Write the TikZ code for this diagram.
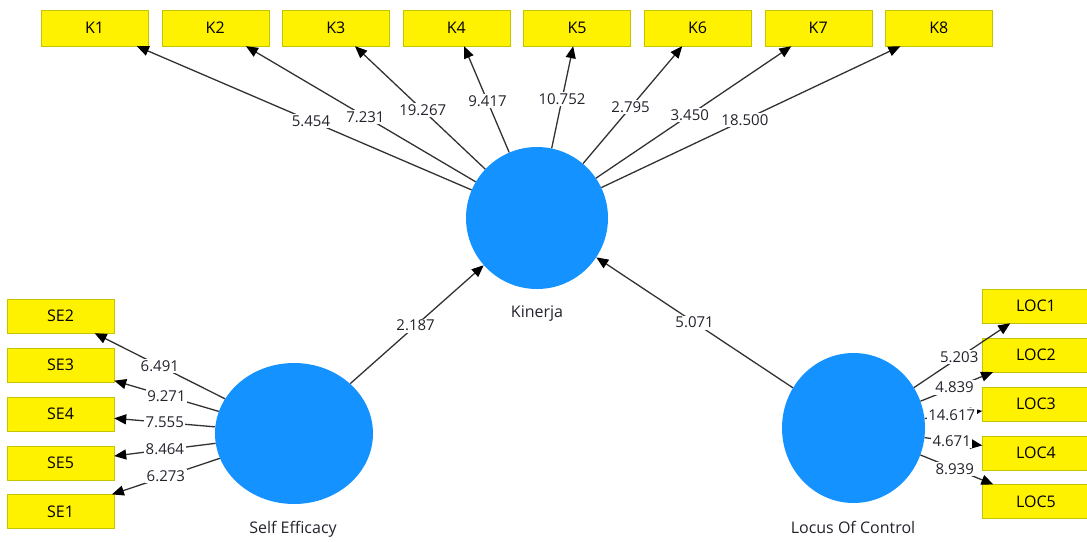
\documentclass[tikz,border=0pt]{standalone}
\usepackage{fontspec}
\setmainfont{Open Sans}
\usetikzlibrary{arrows.meta,shapes.geometric}
\definecolor{boxline}{RGB}{196,196,0}
\definecolor{lvblue}{RGB}{20,146,255}
\definecolor{linegray}{RGB}{50,50,50}
\definecolor{numtext}{RGB}{35,35,45}
\begin{document}
\begin{tikzpicture}[x=1pt,y=-1pt,font=\fontsize{15}{18}\selectfont,
    ind/.style={draw=boxline,fill=yellow,minimum width=107pt,minimum height=35pt,inner sep=0pt,font=\fontsize{16}{19}\selectfont},
    lv/.style={ellipse,fill=lvblue,inner sep=0pt},
    lvname/.style={text=numtext,font=\fontsize{16}{19}\selectfont},
    wt/.style={fill=white,inner sep=1.5pt,text=numtext},
    load/.style={draw=linegray,line width=1.3pt,-{Triangle[length=12pt,width=10pt,color=black]}}]
    \useasboundingbox (0,0) rectangle (1087,541);
    % latent variables
    \node[lv,minimum width=142pt,minimum height=142pt] (kin) at (537,218) {};
    \node[lv,minimum width=158pt,minimum height=141pt] (se) at (294,433.5) {};
    \node[lv,minimum width=143pt,minimum height=150pt] (loc) at (853.5,428) {};
    \node[lvname] at (537,314) {Kinerja};
    \node[lvname] at (293,529) {Self Efficacy};
    \node[lvname] at (853,527) {Locus Of Control};
    % indicators
    \foreach \i in {1,...,8}
    \node[ind,minimum height=36pt] (k\i) at ({94.6+120.6*(\i-1)},28) {K\i};
    \foreach \n [count=\j] in {2,3,4,5,1}
    \node[ind,minimum height=34pt] (se\n) at (60.5,{316+48.9*(\j-1)}) {SE\n};
    \foreach \i in {1,...,5}
    \node[ind,minimum height=34pt] (loc\i) at (1036,{306+48.9*(\i-1)}) {LOC\i};
    % outer loadings
    \foreach \i/\v in {1/5.454,2/7.231,3/19.267,4/9.417,5/10.752,6/2.795,7/3.450,8/18.500}
    \draw[load] (kin) -- node[wt,pos=0.48] {\v} (k\i);
    \foreach \n/\v in {2/6.491,3/9.271,4/7.555,5/8.464,1/6.273}
    \draw[load] (se) -- node[wt,pos=0.5] {\v} (se\n);
    \foreach \i/\v in {1/5.203,2/4.839,3/14.617,4/4.671,5/8.939}
    \draw[load] (loc) -- node[wt,pos=0.47] {\v} (loc\i);
    % inner model
    \draw[load] (se) -- node[wt,pos=0.49] {2.187} (kin);
    \draw[load] (loc) -- node[wt,pos=0.5] {5.071} (kin);
  \end{tikzpicture}
\end{document}
